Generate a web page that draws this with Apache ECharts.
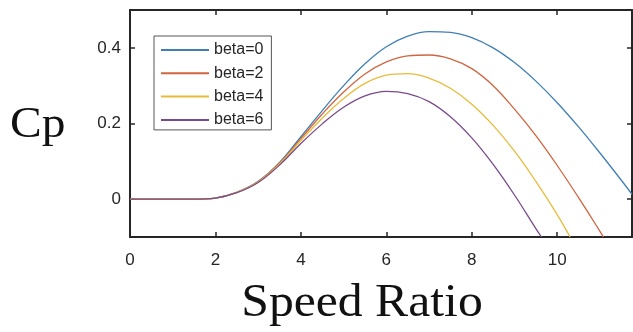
<!DOCTYPE html>
<html>
<head>
<meta charset="utf-8">
<script src="https://cdn.jsdelivr.net/npm/echarts@6/dist/echarts.min.js"></script>
<style>
  html, body { margin: 0; padding: 0; background: #fff; }
  #chart { width: 633px; height: 332px; }
</style>
</head>
<body>
<div id="chart"></div>
<script>
// values
const speedRatio = [0, 0.5, 1, 1.5, 2, 2.5, 3, 3.5, 4, 4.5, 5, 5.5, 6, 6.5, 7, 7.5, 8, 8.5, 9, 9.5, 10, 10.5, 11, 11.5];
const beta0 = [0, 0, 0, 0, 0.003, 0.018, 0.047, 0.097, 0.165, 0.234, 0.300, 0.358, 0.403, 0.431, 0.443, 0.441, 0.427, 0.400, 0.361, 0.312, 0.255, 0.191, 0.122, 0.050];
const beta2 = [0, 0, 0, 0, 0.003, 0.018, 0.046, 0.095, 0.160, 0.225, 0.283, 0.331, 0.363, 0.379, 0.381, 0.371, 0.345, 0.300, 0.238, 0.168, 0.089, 0.004, -0.085, null];
const beta4 = [0, 0, 0, 0, 0.003, 0.018, 0.045, 0.093, 0.155, 0.214, 0.266, 0.306, 0.328, 0.332, 0.320, 0.293, 0.251, 0.195, 0.127, 0.047, -0.041, null, null, null];
const beta6 = [0, 0, 0, 0, 0.003, 0.017, 0.044, 0.090, 0.147, 0.199, 0.243, 0.273, 0.285, 0.279, 0.258, 0.218, 0.162, 0.092, 0.011, -0.078, null, null, null, null];
// where each curve leaves the plot box
const exitRatio = [11.75, 11.08, 10.3, 9.63];
const exitCp = [0.013, -0.1, -0.1, -0.1];

const names = ['beta=0', 'beta=2', 'beta=4', 'beta=6'];
const colors = ['#3f7fb5', '#d0653f', '#e8bb3a', '#7a4a8e'];
const xTicks = [0, 2, 4, 6, 8, 10];
const yTicks = [0, 0.2, 0.4];

const allBeta = [beta0, beta2, beta4, beta6];

function buildPoints(vals, i) {
    const pts = [];
    vals.forEach((v, k) => {
        if (v !== null) pts.push([speedRatio[k], v]);
    });
    pts.push([exitRatio[i], exitCp[i]]);
    return pts;
}

const axisColor = '#262626';
const tickFont = { fontFamily: 'Liberation Sans', fontSize: 17, color: axisColor };

const chart = echarts.init(document.getElementById('chart'));

const option = {
    animation: false,
    backgroundColor: '#fff',
    grid: { left: 130, right: 1, top: 10, bottom: 95 },
    legend: {
        orient: 'vertical',
        left: 154,
        top: 36,
        padding: [6, 8, 2, 6],
        itemWidth: 48,
        itemHeight: 16,
        itemGap: 7.3,
        backgroundColor: '#fff',
        borderColor: '#555',
        borderWidth: 1,
        borderRadius: 0,
        itemStyle: { opacity: 0 },
        textStyle: { fontFamily: 'Liberation Sans', fontSize: 16, color: axisColor },
        data: names
    },
    xAxis: [
        {
            type: 'value', min: 0, max: 11.75, interval: 2,
            axisLine: { show: true, onZero: false, lineStyle: { color: axisColor, width: 2 } },
            axisTick: { show: true, inside: true, length: 5, customValues: xTicks, lineStyle: { color: axisColor, width: 1.5 } },
            axisLabel: { ...tickFont, margin: 15, customValues: xTicks },
            splitLine: { show: false }
        },
        {
            type: 'value', position: 'top', min: 0, max: 11.75, interval: 2,
            axisLine: { show: true, onZero: false, lineStyle: { color: axisColor, width: 2 } },
            axisTick: { show: true, inside: true, length: 5, customValues: xTicks, lineStyle: { color: axisColor, width: 1.5 } },
            axisLabel: { show: false },
            splitLine: { show: false }
        }
    ],
    yAxis: [
        {
            type: 'value', min: -0.1, max: 0.5,
            axisLine: { show: true, onZero: false, lineStyle: { color: axisColor, width: 2 } },
            axisTick: { show: true, inside: true, length: 5, customValues: yTicks, lineStyle: { color: axisColor, width: 1.5 } },
            axisLabel: { ...tickFont, margin: 9, customValues: yTicks },
            splitLine: { show: false }
        },
        {
            type: 'value', position: 'right', min: -0.1, max: 0.5,
            axisLine: { show: true, onZero: false, lineStyle: { color: axisColor, width: 2 } },
            axisTick: { show: true, inside: true, length: 5, customValues: yTicks, lineStyle: { color: axisColor, width: 1.5 } },
            axisLabel: { show: false },
            splitLine: { show: false }
        }
    ],
    graphic: [
        {
            type: 'text', x: 10, y: 125, scaleX: 1.08,
            style: { text: 'Cp', font: '44px "Liberation Serif"', fill: '#111', textAlign: 'left', textVerticalAlign: 'middle' }
        },
        {
            type: 'text', x: 362, y: 304, scaleX: 1.08,
            style: { text: 'Speed Ratio', font: '46px "Liberation Serif"', fill: '#111', textAlign: 'center', textVerticalAlign: 'middle' }
        }
    ],
    series: allBeta.map((vals, i) => ({
        name: names[i],
        type: 'line',
        data: buildPoints(vals, i),
        smooth: 0.4,
        symbol: 'none',
        clip: true,
        color: colors[i],
        lineStyle: { width: 1.3, color: colors[i] }
    }))
};

chart.setOption(option);
</script>
</body>
</html>
